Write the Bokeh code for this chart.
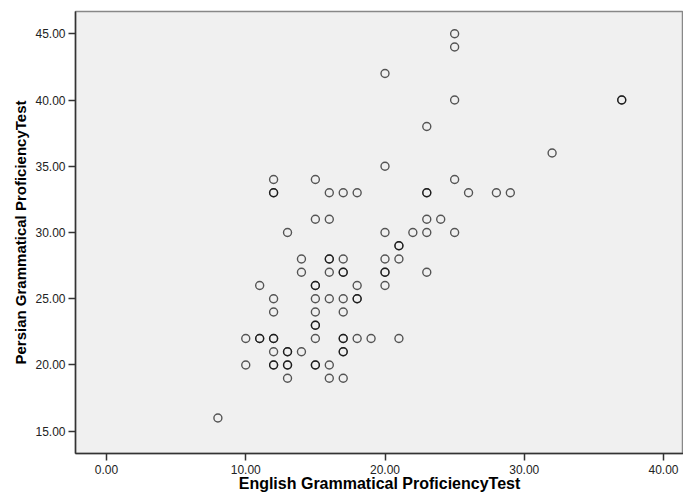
from bokeh.plotting import figure
from bokeh.models import Range1d, FixedTicker, NumeralTickFormatter, ColumnDataSource
from bokeh.embed import file_html
from bokeh.resources import INLINE

# English Grammatical Proficiency Test scores (x) and Persian scores (y)
english = [25, 25, 20, 25, 37, 37, 23, 32, 20, 12, 15, 25,
           12, 12, 16, 17, 18, 23, 23, 26, 28, 29,
           15, 16, 23, 24,
           13, 20, 22, 23, 25,
           21, 21,
           14, 16, 16, 17, 20, 21,
           14, 16, 17, 17, 20, 20, 23,
           11, 15, 15, 18, 20,
           12, 15, 16, 17, 18, 18,
           12, 15, 17,
           15, 15,
           10, 11, 11, 12, 12, 15, 17, 17, 18, 19, 21,
           12, 13, 13, 14, 17, 17,
           10, 12, 12, 13, 13, 15, 15, 16,
           13, 16, 17,
           8]
persian = [45, 44, 42, 40, 40, 40, 38, 36, 35, 34, 34, 34,
           33, 33, 33, 33, 33, 33, 33, 33, 33, 33,
           31, 31, 31, 31,
           30, 30, 30, 30, 30,
           29, 29,
           28, 28, 28, 28, 28, 28,
           27, 27, 27, 27, 27, 27, 27,
           26, 26, 26, 26, 26,
           25, 25, 25, 25, 25, 25,
           24, 24, 24,
           23, 23,
           22, 22, 22, 22, 22, 22, 22, 22, 22, 22, 22,
           21, 21, 21, 21, 21, 21,
           20, 20, 20, 20, 20, 20, 20, 20,
           19, 19, 19,
           16]

x_ticks = [0, 10, 20, 30, 40]
y_ticks = [15, 20, 25, 30, 35, 40, 45]
x_title = "English Grammatical ProficiencyTest"
y_title = "Persian Grammatical ProficiencyTest"

p = figure(width=683, height=501, output_backend="svg", toolbar_location=None,
           x_range=Range1d(-2.226, 41.436), y_range=Range1d(13.317, 46.683),
           min_border_left=75, min_border_right=0, min_border_top=11, min_border_bottom=48,
           background_fill_color="#f0f0f0", border_fill_color="white")

src = ColumnDataSource(dict(x=english, y=persian))
p.scatter("x", "y", source=src, marker="circle", size=8, fill_color=None,
          line_color="black", line_alpha=0.65, line_width=1.4)

p.xgrid.visible = False
p.ygrid.visible = False
p.outline_line_color = "#888888"
p.outline_line_width = 1.5

for ax, ticks in ((p.xaxis[0], x_ticks), (p.yaxis[0], y_ticks)):
    ax.ticker = FixedTicker(ticks=ticks)
    ax.formatter = NumeralTickFormatter(format="0.00")
    ax.minor_tick_line_color = None
    ax.major_tick_in = 0
    ax.major_tick_out = 7
    ax.major_tick_line_color = "#333333"
    ax.major_tick_line_width = 1.5
    ax.axis_line_color = "#333333"
    ax.axis_line_width = 1.5
    ax.major_label_text_font = "Liberation Sans"
    ax.major_label_text_font_size = "12px"
    ax.major_label_text_color = "#222222"
    ax.major_label_standoff = 3
    ax.axis_label_text_font = "Liberation Sans"
    ax.axis_label_text_font_style = "bold"
    ax.axis_label_text_color = "black"

p.xaxis.axis_label = x_title
p.yaxis.axis_label = y_title
p.xaxis.axis_label_text_font_size = "16px"
p.yaxis.axis_label_text_font_size = "15px"
p.xaxis.major_label_standoff = 4
p.xaxis.axis_label_standoff = -2
p.yaxis.axis_label_standoff = 3

open("out.html", "w").write(file_html(p, INLINE))
